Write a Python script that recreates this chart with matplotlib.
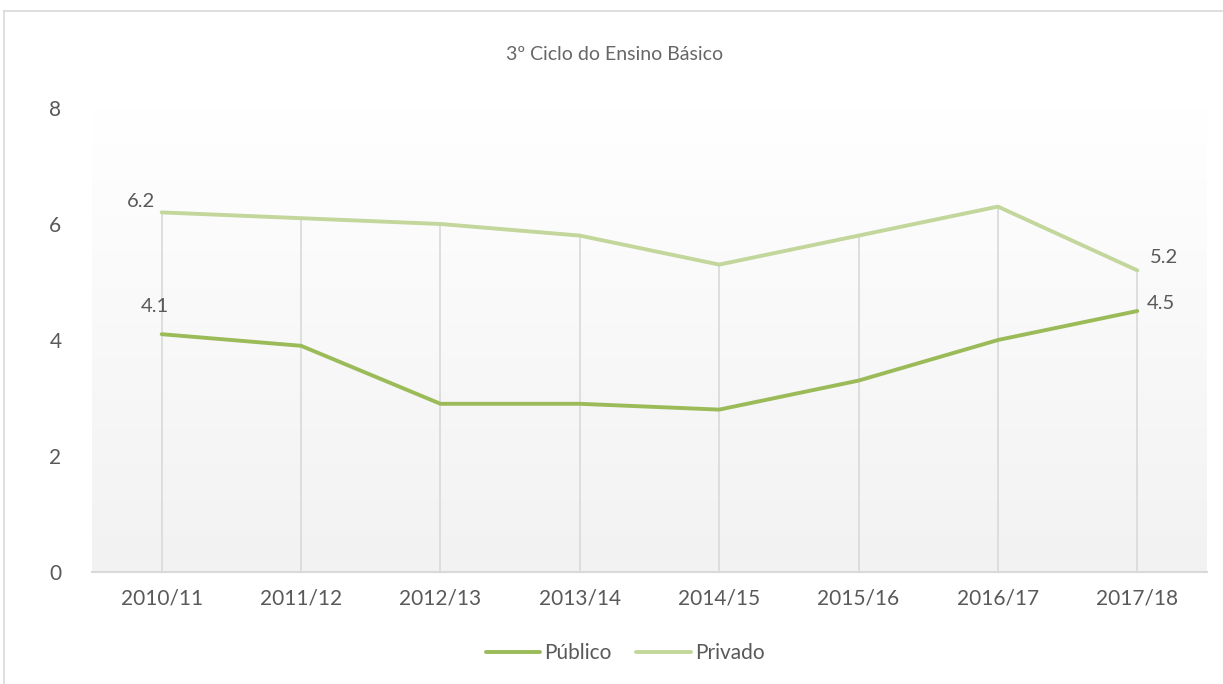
import matplotlib

matplotlib.use('Agg')
import numpy as np
import matplotlib.pyplot as plt
from matplotlib.lines import Line2D
from matplotlib.colors import LinearSegmentedColormap

plt.rcParams['font.family'] = ['Lato', 'DejaVu Sans']

anos = ['2010/11', '2011/12', '2012/13', '2013/14', '2014/15', '2015/16', '2016/17', '2017/18']
publico = [4.1, 3.9, 2.9, 2.9, 2.8, 3.3, 4.0, 4.5]
privado = [6.2, 6.1, 6.0, 5.8, 5.3, 5.8, 6.3, 5.2]
titulo = '3º Ciclo do Ensino Básico'

TXT = '#595959'
GRID = '#d9d9d9'

fig = plt.figure(figsize=(12.23, 6.84), dpi=100)
ax = fig.add_axes([92 / 1223, 112 / 684, 1115 / 1223, 464 / 684])
x = np.arange(len(anos))

# gradient background (white on top, light gray at bottom)
cmap = LinearSegmentedColormap.from_list('bg', ['#ffffff', '#f2f2f2'])
grad = np.linspace(0, 1, 256).reshape(-1, 1)
ax.imshow(grad, aspect='auto', cmap=cmap, extent=[-0.5, len(anos) - 0.5, 0, 8],
          origin='upper', zorder=0)

# drop lines
tops = np.maximum(publico, privado)
ax.vlines(x, 0, tops, color=GRID, lw=1.2, zorder=1)

ax.plot(x, publico, color='#9BBB59', lw=2.8, solid_capstyle='round', label='Público', zorder=3)
ax.plot(x, privado, color='#C3D69B', lw=2.8, solid_capstyle='round', label='Privado', zorder=2)

ax.set_xlim(-0.5, len(anos) - 0.5)
ax.set_ylim(0, 8)
ax.set_yticks([0, 2, 4, 6, 8])
ax.set_xticks(x)
ax.set_xticklabels(anos)
ax.tick_params(axis='both', length=0, colors=TXT, labelsize=15)
ax.tick_params(axis='x', pad=12)
ax.tick_params(axis='y', pad=22)
for s in ['top', 'right', 'left']:
    ax.spines[s].set_visible(False)
ax.spines['bottom'].set_color(GRID)
ax.spines['bottom'].set_linewidth(1.5)

# data labels
lab = dict(textcoords='offset points', ha='center', va='bottom', color=TXT, fontsize=14.5)
ax.annotate(f'{privado[0]:.1f}', (x[0], privado[0]), xytext=(-15, 2), **lab)
ax.annotate(f'{publico[0]:.1f}', (x[0], publico[0]), xytext=(-5, 14), **lab)
ax.annotate(f'{privado[-1]:.1f}', (x[-1], privado[-1]), xytext=(19, 3), **lab)
ax.annotate(f'{publico[-1]:.1f}', (x[-1], publico[-1]), xytext=(17, -1), **lab)

fig.text(615 / 1223, 1 - 55 / 684, titulo, ha='center', va='center', color='#666666',
         fontsize=14)

fig.legend(loc='center', bbox_to_anchor=(625 / 1223, 1 - 653 / 684), ncol=2, frameon=False,
           fontsize=15, handlelength=2.6, columnspacing=1.2, labelcolor=TXT, handletextpad=0.2)

# chart frame
fig.add_artist(Line2D([4 / 1223, 4 / 1223], [0, 1 - 11 / 684], transform=fig.transFigure, color=GRID, lw=1.2))
fig.add_artist(Line2D([4 / 1223, 1], [1 - 11 / 684, 1 - 11 / 684], transform=fig.transFigure, color=GRID, lw=1.2))

fig.savefig('out.png', dpi=100)
